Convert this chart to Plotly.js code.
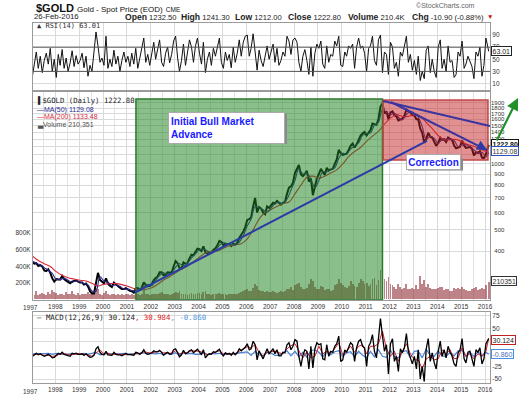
<!DOCTYPE html>
<html><head><meta charset="utf-8">
<script src="https://cdn.plot.ly/plotly-3.0.1.min.js"></script>
<style>body{margin:0;background:#fff}#chart{width:526px;height:398px}</style>
</head><body><div id="chart"></div>
<script>
// ---------- DATA ----------
const priceClose = [
 355,350,352,342,345,340,326,324,330,318,300,290,
 298,298,296,308,298,293,290,285,290,292,294,290,
 287,287,281,284,276,262,256,256,290,318,295,290,
 285,300,284,278,274,287,281,275,272,268,268,271,
 266,263,262,258,270,271,266,272,288,280,276,277,
 282,295,301,306,320,320,310,312,320,318,318,340,
 360,352,335,332,355,350,352,370,385,383,396,410,
 408,400,420,395,390,393,395,405,412,425,445,440,
 425,432,432,430,422,432,428,436,460,472,490,515,
 555,560,570,640,700,600,635,625,600,590,640,630,
 645,665,660,678,665,652,665,670,730,780,790,820,
 910,960,990,895,880,900,930,830,860,720,790,860,
 900,950,920,890,960,935,945,950,1000,1050,1160,1120,
 1100,1110,1115,1160,1210,1240,1190,1230,1300,1350,1380,1400,
 1350,1400,1430,1530,1520,1510,1600,1830,1890,1700,1740,1600,
 1720,1740,1670,1650,1580,1600,1610,1660,1770,1740,1720,1670,
 1670,1600,1600,1450,1390,1250,1300,1390,1330,1320,1250,1210,
 1250,1320,1290,1295,1260,1320,1300,1290,1215,1180,1190,1200,
 1280,1215,1185,1190,1195,1175,1095,1130,1125,1145,1070,1065,
 1110,1223];

const ma50 = [
 360,352,346,336,327,316,
 296,297,300,294,288,292,
 289,284,280,263,262,305,
 292,289,278,280,276,268,
 268,264,263,269,275,282,
 278,293,310,318,314,318,
 338,350,343,352,372,388,
 405,408,400,393,403,425,
 438,430,428,427,440,470,
 520,560,640,630,618,600,
 630,660,668,660,690,760,
 840,950,900,910,850,780,
 840,920,920,940,960,1060,
 1120,1110,1170,1210,1250,1350,
 1380,1390,1500,1550,1770,1720,
 1680,1710,1640,1590,1680,1740,
 1700,1640,1480,1300,1340,1310,
 1240,1300,1300,1300,1280,1200,
 1220,1225,1200,1160,1120,1130,
 1080,1129.08];

const ma200 = [
 380,362,350,340, 322,310,302,298, 294,292,285,277, 282,284,284,281,
 276,270,266,267, 272,282,295,305, 318,330,342,358, 375,392,398,400,
 412,422,428,432, 455,500,560,600, 620,640,660,670, 730,800,870,880,
 860,880,910,940, 1000,1080,1140,1190, 1270,1340,1410,1520, 1620,1680,1650,1650,
 1680,1650,1550,1450, 1350,1290,1290,1295, 1260,1225,1205,1170,
 1140,1133.48];

const volumeK = [
 70,55,95,50,65,80,60,55,90,70,110,85,
 75,55,65,70,55,85,60,70,100,65,55,75,
 55,65,60,70,85,65,90,75,140,120,70,55,
 75,100,65,55,70,60,50,65,55,70,55,60,
 65,55,70,50,80,60,55,60,110,70,60,50,
 60,70,65,60,80,85,70,65,60,55,70,80,
 85,80,95,60,70,65,55,70,80,70,65,75,
 80,70,85,100,65,60,55,60,65,70,80,70,
 65,60,55,65,70,60,65,70,80,85,100,110,
 130,95,100,140,180,160,110,95,100,90,95,85,
 90,100,85,75,90,100,85,105,120,130,150,115,
 170,180,200,150,130,120,140,190,240,220,150,130,
 120,160,150,110,130,120,100,110,170,180,240,200,
 170,150,140,160,220,190,160,150,200,240,220,180,
 200,160,190,240,260,170,230,360,410,240,220,270,
 190,170,150,130,180,150,120,140,180,130,125,140,
 125,170,130,280,190,230,150,180,140,130,120,125,
 135,145,150,110,120,125,105,100,135,125,140,120,
 150,125,110,105,100,120,140,150,115,125,135,120,
 170,210.351];

const rsi = [
 22,45,62,35,55,28,48,60,42,68,30,50,
 20,58,40,66,35,52,30,44,64,38,56,42,
 48,60,36,55,22,40,30,62,95,72,45,52,
 40,88,35,50,38,65,42,55,30,48,62,45,
 55,38,60,42,68,35,52,72,85,45,58,40,
 62,78,50,66,82,45,38,60,70,44,58,80,
 88,52,30,48,75,40,58,82,70,45,72,85,
 60,42,78,28,50,62,40,68,55,72,85,45,
 35,62,48,58,36,70,45,60,82,55,78,88,
 90,55,68,92,60,32,65,48,38,55,72,50,
 62,75,45,68,40,48,62,55,88,80,58,82,
 85,78,45,30,55,66,48,25,70,22,60,75,
 68,80,42,35,72,45,58,55,80,72,88,40,
 38,62,55,72,68,75,35,70,85,68,72,60,
 30,68,72,88,48,40,82,90,28,62,58,25,
 78,70,35,45,22,62,55,72,88,45,58,32,
 48,25,55,15,30,18,65,72,28,50,30,20,
 70,82,35,50,30,72,45,48,20,25,62,55,
 80,35,42,55,48,38,18,62,55,70,22,40,
 85,63.01];

const macd = [
 -5,-2,1,-2,0,-3,-5,-3,-1,-4,-8,-7,
 -2,1,-1,3,-1,-2,-3,-5,1,0,1,-1,
 -1,0,-3,0,-4,-7,-6,-3,10,14,3,-1,
 -2,5,-2,-2,-3,3,-1,-2,-2,-4,-1,1,
 -2,-1,-2,-3,3,2,-1,2,8,1,-1,0,
 2,6,4,4,7,3,-3,1,3,-1,0,8,
 10,2,-6,-2,7,0,2,6,8,2,5,9,
 4,-2,8,-8,-3,0,-1,4,3,6,9,1,
 -4,2,-1,1,-3,3,-2,2,10,6,9,13,
 20,8,10,25,18,-12,6,-2,-10,0,10,0,
 5,10,0,8,-4,-4,3,2,18,22,8,15,
 28,25,-5,-25,-3,8,5,-30,15,-28,10,22,
 18,20,-10,-12,18,-5,5,3,15,20,35,-15,
 -12,8,3,15,22,18,-15,12,25,28,15,12,
 -25,15,22,38,5,-8,25,70,35,5,18,-40,
 20,30,-15,-5,-35,10,2,12,40,5,-8,-20,
 -5,-30,8,-50,-25,-55,10,30,-15,2,-18,-30,
 5,25,-5,8,-8,15,3,-5,-20,-25,2,8,
 30,-10,-18,3,5,-10,-25,8,3,12,-20,-10,
 20,30.124];

const macdSignal = [
 -3,-1,-1,-3,-3,-5, -4,0,0,-2,-2,0, 0,-1,-2,-5,2,8, 0,1,-2,0,-1,-2,
 -1,-2,0,1,4,2, 1,4,5,2,1,1, 6,0,2,2,6,6, 5,2,-2,0,3,6,
 0,0,-1,0,5,9, 14,12,18,3,-4,3, 4,5,2,0,10,16, 20,5,-8,4,-8,-5,
 15,0,5,2,10,22, -2,5,15,3,15,18, 0,15,15,20,45,10, -5,5,-15,5,20,0,
 -12,-12,-30,-10,-5,-12, -10,8,0,8,-10,-8, 12,-5,0,-10,0,-5,
 5,30.984];

const macdHist = [
 -1,1,0,0,1,-1, 1,-1,0,-1,1,0, -1,1,-1,1,3,-2, -1,1,0,-1,0,1,
 -1,0,1,0,2,-1, 1,0,1,-2,1,-1, 2,-3,2,0,1,-1, -1,3,-2,1,0,1,
 -2,0,-1,1,2,2, 4,-3,5,-2,-4,3, 1,-3,-3,2,6,-4, 5,-6,3,-7,6,8,
 3,-6,5,-2,4,6, -5,2,4,-6,5,-3, -8,5,-6,8,-5,-7, 7,-6,-8,4,6,-8,
 5,6,-8,9,-3,-5, 6,-4,-5,3,-4,6, 7,-5,3,-5,4,-4,
 3,-0.86];

// trend lines drawn on the chart (start / end points)
const supportX = ['2001-05-03','2013-07-27'];
const supportY = [258, 1274];
const upperX   = ['2011-09-24','2016-03-17'];
const upperY   = [1941, 1491];
const channelX = ['2012-01-22','2016-01-30'];
const channelY = [1920, 1158];

// highlighted phases (boxes)
const bullX = ['2001-05-18','2011-09-15'], bullY = [239, 1982];
const corrX = ['2011-09-26','2016-02-15'], corrY = [1043, 1959];

const priceTicks = [400,500,600,700,800,900,1000,1100,1200,1300,1400,1500,1600,1700,1800,1900];
const volTicks = [200000,400000,600000,800000];
const volTickText = ['200K','400K','600K','800K'];
const rsiTicks = [10,30,50,70,90];
const macdTicks = [-50,-25,0,25,50,75];

// ---------- dates ----------
const monthDates = [];
for (let y=1997; y<=2016; y++) for (let m=1; m<=12; m++) {
  if (y===2016 && m>2) break;
  monthDates.push((y===2016 && m===2) ? '2016-02-26' : `${y}-${String(m).padStart(2,'0')}-15`);
}
const biDates = [];
for (let y=1997; y<=2015; y++) for (const m of [1,3,5,7,9,11]) biDates.push(`${y}-${String(m).padStart(2,'0')}-15`);
biDates.push('2016-01-15','2016-02-26');
const qDates = [];
for (let y=1997; y<=2015; y++) for (const m of [1,4,7,10]) qDates.push(`${y}-${String(m).padStart(2,'0')}-15`);
qDates.push('2016-01-15','2016-02-26');

// ---------- layout helpers (pixel -> paper) ----------
const L=33, R=490, T=23, B=383;
const px = x => (x-L)/(R-L);
const py = y => (B-y)/(B-T);
const XR = ['1997-01-24','2016-03-17'];
const GRID = '#dadada', BORDER = '#9a9a9a';
const FONT = 'Liberation Sans, Arial, sans-serif';
const MONO = 'DejaVu Sans Mono, monospace';
const BLUE = '#2b3aa8';

const traces = [
 {x: monthDates, y: rsi, xaxis:'x', yaxis:'y', type:'scatter', mode:'lines', line:{color:'#111', width:1}},
 {x: monthDates, y: volumeK.map(v=>v*1000), xaxis:'x2', yaxis:'y2', type:'bar', width: 28*86400000,
  marker:{color:'rgba(150,55,65,0.62)', line:{width:0}}},
 {x: monthDates, y: priceClose, xaxis:'x2', yaxis:'y3', type:'scatter', mode:'lines', line:{color:'#000', width:2}},
 {x: qDates, y: ma200, xaxis:'x2', yaxis:'y3', type:'scatter', mode:'lines', line:{color:'#d8283c', width:1.1, shape:'spline'}},
 {x: biDates, y: ma50, xaxis:'x2', yaxis:'y3', type:'scatter', mode:'lines', line:{color:'#2a2a90', width:1.1, shape:'spline'}},
 {x: biDates, y: macdHist, xaxis:'x3', yaxis:'y4', type:'scatter', mode:'lines', line:{color:'#4a7fd8', width:1.2}},
 {x: biDates, y: macdSignal, xaxis:'x3', yaxis:'y4', type:'scatter', mode:'lines', line:{color:'#d02030', width:1}},
 {x: monthDates, y: macd, xaxis:'x3', yaxis:'y4', type:'scatter', mode:'lines', line:{color:'#000', width:1.3}}
];

const xBase = {type:'date', range: XR, tick0:'1997-01-01', dtick:'M12', tickformat:'%Y',
  showgrid:true, gridcolor:GRID, gridwidth:1, showline:true, mirror:true, linecolor:BORDER, linewidth:1,
  ticks:'', tickfont:{size:6.5, color:'#333', family:FONT}, zeroline:false, fixedrange:true};
const yBase = {showgrid:true, gridcolor:GRID, gridwidth:1, showline:true, mirror:true, linecolor:BORDER,
  linewidth:1, ticks:'', tickfont:{size:6.5, color:'#333', family:FONT}, zeroline:false, fixedrange:true};

const fsp = '\u2007';
const ann = [];
function txt(x, y, text, opts) { ann.push(Object.assign({xref:'paper', yref:'paper', x:px(x), y:py(y), text,
  showarrow:false, xanchor:'left', yanchor:'middle', font:{family:FONT, size:7, color:'#333'}}, opts||{})); }

// header
txt(34, 8, "<b>$GOLD</b> <span style='font-size:8px'>Gold - Spot Price (EOD)</span> <span style='font-size:6.5px'>CME</span>", {font:{family:FONT, size:11, color:'#111'}});
txt(414, 5.5, "\u00a9StockCharts.com", {font:{family:FONT, size:7, color:'#666'}});
txt(32, 16.5, "26-Feb-2016", {font:{family:FONT, size:7.8, color:'#222'}});
const hdr = [[123,'Open','1232.50'],[179,'High','1241.30'],[233,'Low','1212.00'],[286,'Close','1222.80'],
             [346,'Volume','210.4K'],[410,'Chg','-10.90 (-0.88%)']];
hdr.forEach(h => txt(h[0], 16.5, "<b><span style='font-size:8.6px'>"+h[1]+"</span></b> "+h[2], {font:{family:FONT, size:7.6, color:'#222'}}));
txt(485, 16.5, "\u25BC", {font:{family:FONT, size:6.5, color:'#d01010'}});
// RSI legend
txt(35, 26.5, "\u25B2 RSI(14) 63.01", {font:{family:MONO, size:7, color:'#333'}});
// main legend
txt(35, 100, "\u258C$GOLD (Daily) 1222.80", {font:{family:MONO, size:7.3, color:'#222'}});
txt(35, 109.5, "\u2014MA(50) 1129.08", {font:{family:FONT, size:7, color:'#2a2a90'}});
txt(35, 117, "\u2014MA(200) 1133.48", {font:{family:FONT, size:7, color:'#d8283c'}});
txt(35, 124.5, "\u2583Volume 210,351", {font:{family:FONT, size:7, color:'#555'}});
// MACD legend
txt(35, 317.5, "\u2014 MACD(12,26,9) 30.124<span style='color:#e02020'>, 30.984</span><span style='color:#4a90e2'>, -0.860</span>",
  {font:{family:MONO, size:7.4, color:'#222'}});
// year 1997 labels (tick lies just left of the plotted range)
txt(30.5, 307, "1997", {xanchor:'center', font:{family:FONT, size:6.5, color:'#333'}});
txt(30.5, 391, "1997", {xanchor:'center', font:{family:FONT, size:6.5, color:'#333'}});

// value boxes on the right edge
function box(y, text, border, color, bold) {
  ann.push({xref:'paper', yref:'paper', x:px(491), y:py(y), xanchor:'left', yanchor:'middle', showarrow:false,
    text: bold ? '<b>'+text+'</b>' : text, bgcolor:'#fff', bordercolor:border, borderwidth:1, borderpad:0.5,
    font:{family:FONT, size:7, color:color}});
}
box(51, '63.01', '#222', '#222', false);
box(144, '1222.80', '#111', '#111', true);
box(151.5, '1129.08', '#3050c0', '#333', false);
box(281, '210351', '#333', '#333', false);
box(340, '30.124', '#c02020', '#222', false);
box(353.5, '-0.860', '#4a90e2', '#4a70c0', false);

// text boxes
ann.push({xref:'paper', yref:'paper', x:px(168), y:py(112), xanchor:'left', yanchor:'top', showarrow:false,
  text:'Initial Bull Market<br>Advance', align:'left', width:111, height:26, valign:'middle',
  bgcolor:'#fff', bordercolor:'#aaa', borderwidth:1, borderpad:2,
  font:{family:FONT, size:10, color:'#1a1aff', weight:'bold'}});
ann.push({xref:'paper', yref:'paper', x:px(433.5), y:py(162.5), xanchor:'center', yanchor:'middle', showarrow:false,
  text:'Correction', width:51, height:12, bgcolor:'#fff', bordercolor:'#aaa', borderwidth:1, borderpad:1,
  font:{family:FONT, size:10, color:'#1a1aff', weight:'bold'}});

// arrows
ann.push({xref:'paper', yref:'paper', x:px(518), y:py(98), ax:-22, ay:44, text:'', showarrow:true,
  arrowhead:2, arrowsize:1.1, arrowwidth:2.2, arrowcolor:'#23912a'});
ann.push({xref:'x2', yref:'y3', x:channelX[1], y:Math.log10(channelY[1]), ax:-9, ay:-5, text:'', showarrow:true,
  arrowhead:2, arrowsize:1, arrowwidth:2, arrowcolor:BLUE});

const tline = (xs, ys, c) => ({type:'line', xref:'x2', yref:'y3', x0:xs[0], x1:xs[1], y0:ys[0], y1:ys[1],
  line:{color:c, width:2}, layer:'above'});
const shapes = [
 {type:'line', xref:'x domain', yref:'y', x0:0, x1:1, y0:70, y1:70, line:{color:'#555', width:1}},
 {type:'line', xref:'x domain', yref:'y', x0:0, x1:1, y0:30, y1:30, line:{color:'#555', width:1}},
 {type:'rect', xref:'x2', yref:'y3', x0:bullX[0], x1:bullX[1], y0:bullY[0], y1:bullY[1],
  fillcolor:'rgba(30,130,30,0.52)', line:{color:'#2c7a2c', width:1.5}, layer:'above'},
 {type:'rect', xref:'x2', yref:'y3', x0:corrX[0], x1:corrX[1], y0:corrY[0], y1:corrY[1],
  fillcolor:'rgba(195,35,35,0.5)', line:{color:'#c04848', width:1.5}, layer:'above'},
 tline(supportX, supportY, BLUE), tline(upperX, upperY, '#3a34a0'), tline(channelX, channelY, '#3a34a0'),
 {type:'rect', xref:'paper', yref:'paper', x0:px(170), x1:px(287), y0:py(144), y1:py(114),
  fillcolor:'#8a8a8a', line:{width:0}, layer:'above'},
 {type:'rect', xref:'paper', yref:'paper', x0:px(408), x1:px(463), y0:py(170.5), y1:py(158.5),
  fillcolor:'#8a8a8a', line:{width:0}, layer:'above'}
];

const layout = {
  width:526, height:398, margin:{l:L, r:526-R, t:T, b:398-B},
  paper_bgcolor:'#fff', plot_bgcolor:'#fff', showlegend:false, bargap:0, hovermode:false,
  font:{family:FONT, size:7, color:'#333'},
  xaxis: Object.assign({}, xBase, {anchor:'y', showticklabels:false}),
  xaxis2: Object.assign({}, xBase, {anchor:'y2', minor:{dtick:'M6', showgrid:true, gridcolor:'#e3e3e3'}}),
  xaxis3: Object.assign({}, xBase, {anchor:'y4'}),
  yaxis: Object.assign({}, yBase, {domain:[py(90), 1], anchor:'x', side:'right', range:[-0.7,109.8], tickvals:rsiTicks}),
  yaxis2: Object.assign({}, yBase, {domain:[py(300), py(92)], anchor:'x2', side:'left', range:[-8000,2504000],
    tickvals:volTicks, ticktext:volTickText, showgrid:false}),
  yaxis3: Object.assign({}, yBase, {overlaying:'y2', anchor:'x2', side:'right', type:'log', range:[2.3784,3.329],
    tickvals:priceTicks, ticktext:priceTicks.map(v=> (v===1100||v===1200) ? '' : (v<1000 ? fsp+v : String(v))),
    showline:false, tickfont:{size:6, color:'#333', family:FONT}}),
  yaxis4: Object.assign({}, yBase, {domain:[0, py(312)], anchor:'x3', side:'right', range:[-57.9,82.9],
    tickvals:macdTicks, ticktext:macdTicks.map(v=> (v===0||v===25) ? '' : String(v))}),
  shapes, annotations: ann
};

Plotly.newPlot('chart', traces, layout, {staticPlot:true, displayModeBar:false});
</script></body></html>
